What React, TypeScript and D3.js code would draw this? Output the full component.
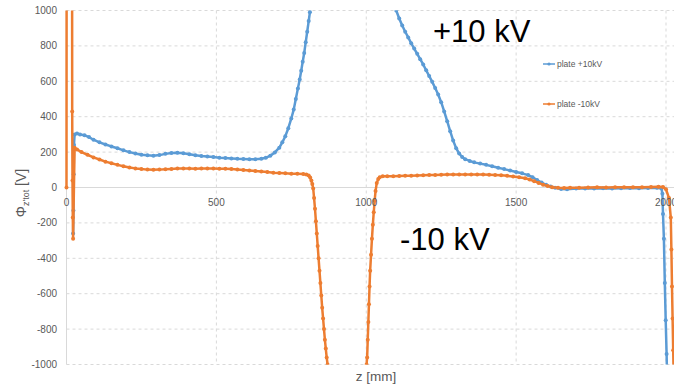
import React from "react";
import * as d3 from "d3";

const W = 674;
const H = 390;

const yTicks = [-1000, -800, -600, -400, -200, 0, 200, 400, 600, 800, 1000];
const xTicks = [0, 500, 1000, 1500, 2000];
const seriesNames = ["plate +10kV", "plate -10kV"];
const xTitle = "z [mm]";

// plate +10kV (blue)
const zPlus = [
  22, 23, 24, 25, 27, 35, 45, 60, 75, 90, 110, 130, 150, 170, 190, 210, 230, 250, 270, 290,
  310, 330, 350, 370, 390, 410, 430, 450, 470, 490, 510, 530, 550, 570, 590, 610, 630, 650,
  665, 680, 695, 710, 720, 730, 740, 750, 758, 765, 772, 778, 783, 788, 793, 798, 803, 808,
  812, 815, 820, 1090, 1095, 1100, 1110, 1120, 1130, 1140, 1150, 1160, 1170, 1180, 1190, 1200,
  1210, 1220, 1230, 1240, 1250, 1260, 1270, 1280, 1290, 1300, 1310, 1320, 1330, 1345, 1360,
  1380, 1400, 1420, 1440, 1460, 1480, 1500, 1520, 1540, 1555, 1570, 1585, 1600, 1615, 1630,
  1650, 1670, 1700, 1730, 1760, 1790, 1820, 1850, 1880, 1910, 1940, 1970, 1985, 1988, 1990,
  1993, 1996, 1999, 2002, 2004,
];
const phiPlus = [
  -260, -130, 75, 240, 300, 305, 300, 295, 285, 270, 255, 243, 232, 222, 210, 200, 192, 185,
  182, 180, 183, 190, 195, 196, 193, 188, 182, 178, 175, 172, 168, 166, 164, 162, 161, 160,
  160, 162, 168, 180, 198, 225, 255, 290, 335, 390, 440, 500, 560, 610, 660, 710, 760, 820,
  880, 940, 990, 1040, 1150, 1150, 1050, 1000, 955, 915, 880, 848, 815, 785, 755, 725, 695,
  662, 630, 597, 562, 525, 482, 430, 375, 318, 265, 222, 192, 172, 160, 150, 142, 135, 128,
  120, 112, 104, 96, 88, 80, 70, 58, 42, 28, 15, 5, -2, -8, -10, -6, -5, -6, -4, -5, -4, -3,
  -4, -3, -2, -6, -35, -150, -290, -540, -750, -940, -1100,
];

// plate -10kV (orange)
const zMinus = [
  0, 1, 18, 19, 20, 21, 22, 27, 35, 50, 70, 90, 110, 130, 150, 170, 190, 210, 230, 250, 270,
  290, 310, 330, 350, 370, 390, 410, 430, 450, 470, 490, 510, 530, 550, 570, 590, 610, 630,
  650, 670, 690, 710, 730, 750, 770, 790, 800, 808, 813, 817, 820, 823, 826, 829, 832, 835,
  838, 841, 844, 847, 850, 853, 856, 859, 862, 865, 868, 871, 874, 878, 1000, 1001, 1003,
  1005, 1007, 1009, 1011, 1013, 1016, 1019, 1022, 1025, 1028, 1031, 1035, 1040, 1045, 1055,
  1070, 1090, 1110, 1130, 1150, 1170, 1190, 1210, 1230, 1250, 1270, 1290, 1310, 1330, 1350,
  1370, 1390, 1410, 1430, 1450, 1470, 1490, 1510, 1530, 1545, 1560, 1575, 1590, 1605, 1620,
  1640, 1660, 1680, 1710, 1740, 1770, 1800, 1830, 1860, 1890, 1920, 1950, 1975, 1990, 2000,
  2010, 2016, 2018, 2020, 2022, 2024, 2026,
];
const phiMinus = [
  0, 3000, 3000, 430, 40, -170, -290, 225, 215, 200, 185, 170, 158, 146, 137, 128, 120, 113,
  108, 104, 101, 100, 101, 103, 105, 107, 108, 107, 106, 107, 108, 107, 106, 106, 104, 102,
  99, 96, 93, 90, 87, 84, 82, 80, 78, 77, 76, 74, 68, 56, 40, 20, -5, -60, -120, -190, -260,
  -330, -400, -470, -540, -610, -680, -740, -800, -860, -910, -960, -1000, -1040, -1100,
  -1100, -1000, -960, -860, -760, -660, -560, -470, -380, -290, -210, -140, -75, -20, 25, 48,
  58, 63, 64, 64, 65, 66, 67, 68, 69, 70, 71, 72, 73, 74, 74, 74, 74, 74, 73, 72, 71, 69, 66,
  62, 58, 52, 45, 36, 26, 16, 8, 2, -2, -3, -2, -1, 0, 1, 0, 1, 2, 1, 2, 3, 4, 3, -10, -60,
  -170, -350, -560, -740, -920, -1100,
];

const BLUE = "#5B9BD5";
const ORANGE = "#ED7D31";
const GRID = "#d9d9d9";
const TXT = "#595959";
const FONT = "'Liberation Sans', Arial, sans-serif";

export default function App() {
  const x = d3.scaleLinear().domain([0, 2000]).range([66.5, 666]);
  const y = d3.scaleLinear().domain([-1000, 1000]).range([364.5, 10.5]);

  const plus = zPlus.map((z, i) => [z, phiPlus[i]] as [number, number]);
  const minus = zMinus.map((z, i) => [z, phiMinus[i]] as [number, number]);
  const line = d3
    .line<[number, number]>()
    .x((d) => x(d[0]))
    .y((d) => y(d[1]));

  const inView = (d: [number, number]) => d[1] >= -1000 && d[1] <= 1000;

  return (
    <svg
      width={W}
      height={H}
      style={{ position: "absolute", left: 0, top: 0, background: "#fff" }}
      fontFamily={FONT}
    >
      <defs>
        <clipPath id="plotClip">
          <rect x={0} y={y(1000)} width={W} height={y(-1000) - y(1000)} />
        </clipPath>
      </defs>
      {/* grid */}
      {yTicks
        .filter((t) => t !== 0)
        .map((t) => (
          <line
            key={"gy" + t}
            x1={x(0)}
            x2={W}
            y1={y(t)}
            y2={y(t)}
            stroke={GRID}
            strokeDasharray="3,3"
            strokeWidth={1}
          />
        ))}
      {xTicks
        .filter((t) => t !== 0)
        .map((t) => (
          <line
            key={"gx" + t}
            x1={x(t)}
            x2={x(t)}
            y1={y(1000)}
            y2={y(-1000)}
            stroke={GRID}
            strokeDasharray="3,3"
            strokeWidth={1}
          />
        ))}
      <line x1={x(0)} x2={W} y1={y(0)} y2={y(0)} stroke={GRID} strokeWidth={1} />
      <line x1={x(0)} x2={x(0)} y1={y(1000)} y2={y(-1000)} stroke={GRID} strokeWidth={1} />

      {/* y tick labels */}
      {yTicks.map((t) => (
        <text key={"ty" + t} x={57} y={y(t) + 3.5} textAnchor="end" fontSize={10} fill={TXT}>
          {t}
        </text>
      ))}

      {/* series */}
      <g clipPath="url(#plotClip)">
        <path d={line(plus) || ""} fill="none" stroke={BLUE} strokeWidth={2.5} strokeLinejoin="round" />
        {plus.filter(inView).map((d, i) => (
          <circle key={"pb" + i} cx={x(d[0])} cy={y(d[1])} r={2} fill={BLUE} />
        ))}
        <path d={line(minus) || ""} fill="none" stroke={ORANGE} strokeWidth={2.5} strokeLinejoin="round" />
        {minus.filter(inView).map((d, i) => (
          <circle key={"po" + i} cx={x(d[0])} cy={y(d[1])} r={2} fill={ORANGE} />
        ))}
      </g>

      {/* x tick labels */}
      {xTicks.map((t) => (
        <text key={"tx" + t} x={x(t)} y={y(0) + 18} textAnchor="middle" fontSize={10} fill={TXT}>
          {t}
        </text>
      ))}

      {/* axis titles */}
      <text x={376} y={381} textAnchor="middle" fontSize={13.5} fill={TXT}>
        {xTitle}
      </text>
      <text
        transform="translate(26,193) rotate(-90)"
        textAnchor="middle"
        fontSize={14}
        fill={TXT}
      >
        Φ
        <tspan fontSize={9} dy={3}>
          z'tot
        </tspan>
        <tspan dy={-3}> [V]</tspan>
      </text>

      {/* legend */}
      {seriesNames.map((name, i) => {
        const ly = i === 0 ? 64 : 104;
        const c = i === 0 ? BLUE : ORANGE;
        return (
          <g key={name}>
            <line x1={543} x2={555} y1={ly} y2={ly} stroke={c} strokeWidth={1.5} />
            <circle cx={549} cy={ly} r={1.6} fill={c} />
            <text x={557} y={ly + 3} fontSize={8.5} fill={TXT}>
              {name}
            </text>
          </g>
        );
      })}

      {/* annotations */}
      <text x={433} y={42} fontSize={31} fill="#000">
        +10 kV
      </text>
      <text x={400} y={250} fontSize={31} fill="#000">
        -10 kV
      </text>
    </svg>
  );
}
